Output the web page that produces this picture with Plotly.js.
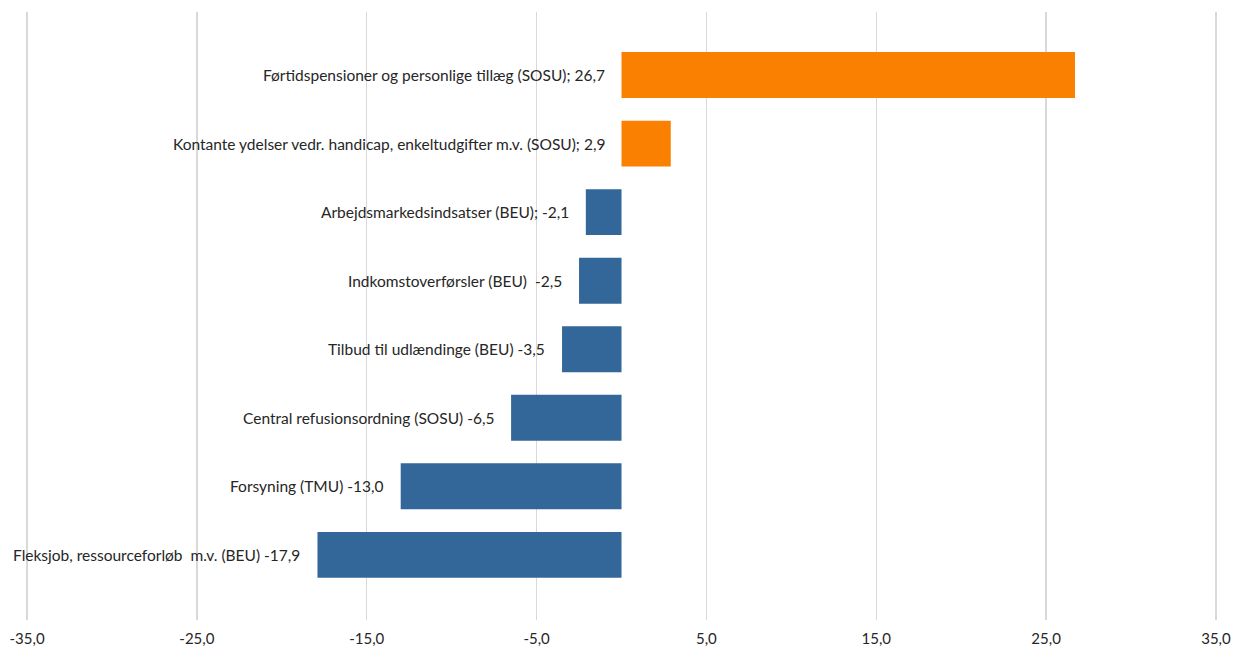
<!DOCTYPE html>
<html>
<head>
<meta charset="utf-8">
<script src="https://cdn.plot.ly/plotly-3.0.1.min.js"></script>
<style>html,body{margin:0;padding:0;background:#fff;}#chart{width:1235px;height:650px;}</style>
</head>
<body>
<div id="chart"></div>
<script>
// Data (bottom to top)
const categories = [
  "Fleksjob, ressourceforløb  m.v. (BEU) -17,9",
  "Forsyning (TMU) -13,0",
  "Central refusionsordning (SOSU) -6,5",
  "Tilbud til udlændinge (BEU) -3,5",
  "Indkomstoverførsler (BEU)  -2,5",
  "Arbejdsmarkedsindsatser (BEU); -2,1",
  "Kontante ydelser vedr. handicap, enkeltudgifter m.v. (SOSU); 2,9",
  "Førtidspensioner og personlige tillæg (SOSU); 26,7"
];
const values = [-17.9, -13.0, -6.5, -3.5, -2.5, -2.1, 2.9, 26.7];
const tickValues = [-35, -25, -15, -5, 5, 15, 25, 35];
const tickLabels = ["-35,0", "-25,0", "-15,0", "-5,0", "5,0", "15,0", "25,0", "35,0"];

const colors = values.map(v => v >= 0 ? "#F98000" : "#336699");
const idx = categories.map((c, i) => i);

const trace = {
  type: "bar",
  orientation: "h",
  x: values,
  y: idx,
  width: 0.67,
  marker: {color: colors, line: {width: 0}},
  hoverinfo: "skip"
};

const annotations = categories.map((c, i) => ({
  x: Math.min(0, values[i]),
  y: i,
  xref: "x",
  yref: "y",
  text: c,
  showarrow: false,
  xanchor: "right",
  yanchor: "middle",
  xshift: -15,
  font: {family: "Lato, 'Open Sans', sans-serif", size: 15.5, color: "#262626"}
}));

const layout = {
  width: 1235,
  height: 650,
  margin: {l: 25, r: 17, t: 12, b: 30},
  paper_bgcolor: "#fff",
  plot_bgcolor: "#fff",
  showlegend: false,
  font: {family: "Lato, 'Open Sans', sans-serif", size: 15, color: "#262626"},
  xaxis: {
    range: [-35.12, 35.12],
    tickvals: tickValues,
    ticktext: tickLabels,
    showgrid: true,
    gridcolor: "#D9D9D9",
    gridwidth: 1.5,
    zeroline: false,
    showline: false,
    ticks: "",
    ticklabelstandoff: 8,
    tickfont: {family: "Lato, 'Open Sans', sans-serif", size: 15, color: "#262626"}
  },
  yaxis: {
    range: [-0.95, 7.92],
    showticklabels: false,
    showgrid: false,
    zeroline: false,
    showline: false,
    ticks: ""
  },
  annotations: annotations
};

Plotly.newPlot("chart", [trace], layout, {displayModeBar: false, staticPlot: true});
</script>
</body>
</html>
